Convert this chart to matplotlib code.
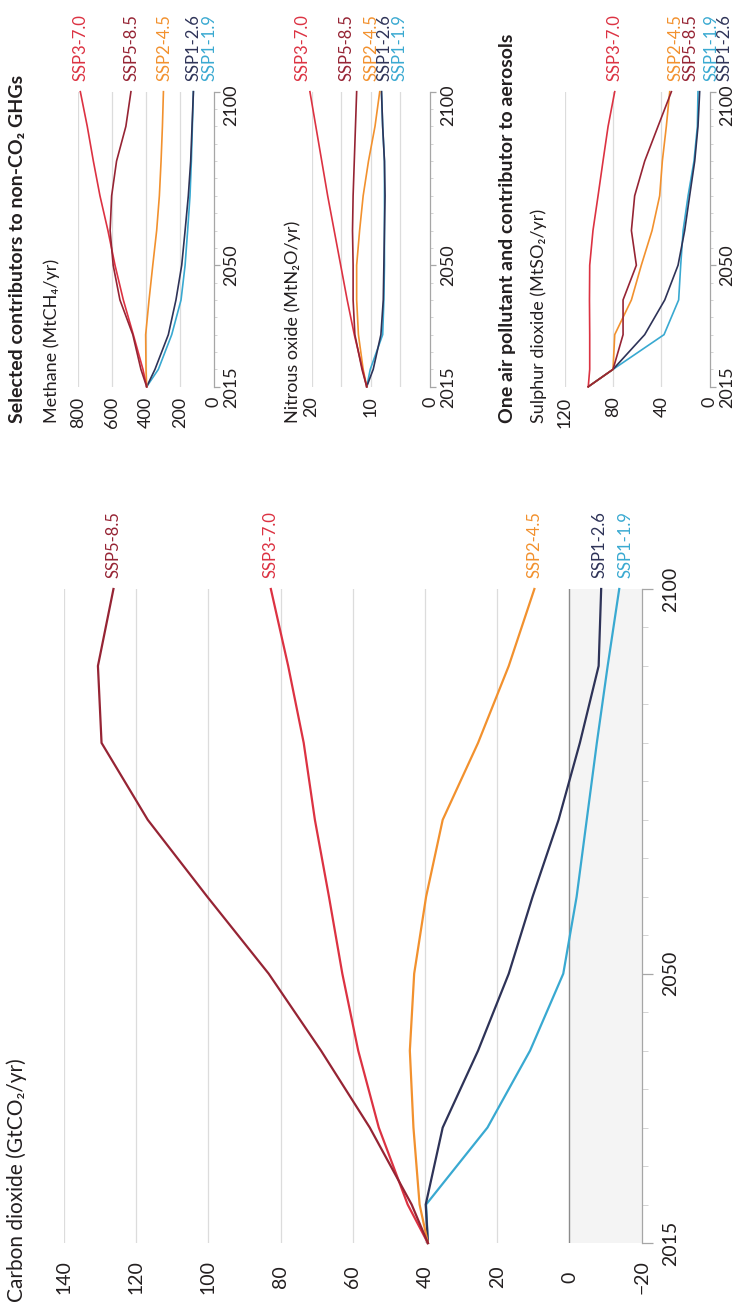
import matplotlib.pyplot as plt
import matplotlib.transforms as mtransforms

plt.rcParams['font.family'] = ['Lato', 'DejaVu Sans']

W, H = 742, 1308

years = [2015, 2020, 2030, 2040, 2050, 2060, 2070, 2080, 2090, 2100]
scenarios = ['SSP1-1.9', 'SSP1-2.6', 'SSP2-4.5', 'SSP3-7.0', 'SSP5-8.5']
colours = {
    'SSP1-1.9': '#39a9d1',
    'SSP1-2.6': '#2e3358',
    'SSP2-4.5': '#f2912e',
    'SSP3-7.0': '#dc3242',
    'SSP5-8.5': '#962434',
}

# GtCO2/yr
co2 = {
    'SSP1-1.9': [39.2, 39.7, 22.7, 10.9, 1.7, -2.0, -4.8, -7.6, -10.6, -13.8],
    'SSP1-2.6': [39.2, 39.8, 35.1, 25.3, 16.8, 10.2, 3.0, -2.9, -8.1, -8.8],
    'SSP2-4.5': [39.2, 41.5, 43.2, 44.2, 43.0, 39.7, 35.1, 25.3, 16.8, 9.7],
    'SSP3-7.0': [39.2, 44.8, 52.8, 58.5, 62.9, 66.6, 70.5, 73.6, 77.9, 82.7],
    'SSP5-8.5': [39.2, 43.7, 55.3, 68.8, 83.3, 100.3, 116.8, 129.6, 130.6, 126.3],
}
# MtCH4/yr
ch4 = {
    'SSP1-1.9': [396, 327, 248, 193, 169, 154, 140, 132, 126, 120],
    'SSP1-2.6': [396, 347, 268, 223, 189, 169, 150, 136, 128, 120],
    'SSP2-4.5': [396, 400, 402, 382, 360, 337, 321, 311, 303, 297],
    'SSP3-7.0': [396, 418, 475, 534, 583, 625, 672, 711, 747, 788],
    'SSP5-8.5': [396, 430, 478, 554, 594, 612, 603, 574, 519, 489],
}
# MtN2O/yr
n2o = {
    'SSP1-1.9': [10.7, 10.1, 8.0, 7.8, 7.7, 7.7, 7.7, 7.7, 8.0, 8.2],
    'SSP1-2.6': [10.7, 9.6, 8.3, 7.9, 7.8, 7.7, 7.6, 7.7, 8.0, 8.2],
    'SSP2-4.5': [10.7, 11.3, 12.1, 12.4, 12.4, 11.9, 11.3, 10.4, 9.3, 8.5],
    'SSP3-7.0': [10.7, 11.4, 12.8, 14.0, 15.1, 16.2, 17.3, 18.3, 19.3, 20.3],
    'SSP5-8.5': [10.7, 11.5, 12.7, 13.0, 13.0, 13.1, 13.0, 12.8, 12.6, 12.4],
}
# MtSO2/yr
so2 = {
    'SSP1-1.9': [100.5, 80, 37.8, 25.7, 24.0, 22.0, 17.9, 13.0, 10.2, 9.7],
    'SSP1-2.6': [100.5, 80, 53.8, 37.2, 26.2, 20.7, 16.6, 12.4, 9.7, 8.3],
    'SSP2-4.5': [100.5, 80, 78.6, 64.8, 56.6, 47.7, 41.4, 39.2, 35.9, 33.1],
    'SSP3-7.0': [100.5, 99.3, 99.3, 99.5, 99.3, 96.6, 92.4, 88.3, 84.1, 78.6],
    'SSP5-8.5': [100.5, 80, 71.7, 71.7, 60.7, 64.8, 62.1, 53.8, 42.8, 31.7],
}

GRID = '#dcdcdc'
AXIS = '#a6a6a6'
TEXT = '#231f20'
minor_years = [y for y in range(2020, 2100, 5) if y != 2050]


def box(left, right, top, bottom):
    return [left / W, 1 - bottom / H, (right - left) / W, (bottom - top) / H]


def panel(rect, data, xlim, grid_vals, tick_vals, nudges, lw=1.2, big=False):
    ax = fig.add_axes(box(*rect))
    ax.patch.set_alpha(0)
    ax.set_xlim(*xlim)
    ax.set_ylim(2015, 2100)
    for s in ['left', 'top', 'bottom']:
        ax.spines[s].set_visible(False)
    ax.spines['right'].set_color(AXIS)
    ax.spines['right'].set_linewidth(0.9)
    for v in grid_vals:
        ax.axvline(v, color=GRID, lw=0.9, zorder=0)

    ax.set_xticks(tick_vals)
    ax.set_xticklabels([f'{v:g}'.replace('-', '\u2212') for v in tick_vals],
                       rotation=90)
    ax.tick_params(axis='x', length=0, pad=24.5 if big else 7,
                   labelsize=14 if big else 13, labelcolor=TEXT)
    if big:
        for lab in ax.get_xticklabels():
            lab.set_va('center')

    # year axis on the right, labels turned with the panel
    tick_len = 8 if big else 4
    tick_pad = 7 if big else 3
    ysize = 14 if big else 13
    ax.yaxis.tick_right()
    ax.set_yticks([2015, 2050, 2100])
    ax.set_yticks(minor_years, minor=True)
    ax.tick_params(axis='y', which='major', direction='out',
                   length=tick_len, width=0.9, color=AXIS,
                   pad=tick_pad, labelsize=ysize, labelcolor=TEXT)
    ax.tick_params(axis='y', which='minor', direction='out',
                   length=4 if big else 2.5, width=0.6, color='#cccccc')
    if big:
        ax.set_yticklabels(['2015', '2050', '2100'])
    else:
        # 2100 sits a little below its tick, clear of the scenario names
        ax.set_yticklabels(['2015', '2050', ''])
        trans = mtransforms.blended_transform_factory(ax.transAxes, ax.transData)
        ax.annotate('2100', (1, 2100), xycoords=trans,
                    xytext=((tick_len + tick_pad) * 100 / 72, -14),
                    textcoords='offset pixels', rotation=90, ha='left',
                    va='center', fontsize=ysize, color=TEXT,
                    annotation_clip=False)
    for lab in ax.get_yticklabels():
        lab.set_rotation(90)
        lab.set_va('center')

    for name in scenarios:
        ax.plot(data[name], years, color=colours[name], lw=lw,
                solid_joinstyle='miter', clip_on=False)
        ax.annotate(name, (data[name][-1], 2100), xytext=(nudges[name], 11),
                    textcoords='offset pixels', rotation=90, ha='center',
                    va='bottom', fontsize=12, color=colours[name],
                    annotation_clip=False)
    return ax


fig = plt.figure(figsize=(W / 100, H / 100), dpi=100)

# methane
panel((78.3, 213.7, 91.7, 386.7), ch4, (800, 0), [800, 600, 400, 200],
      [800, 600, 400, 200, 0],
      {'SSP1-1.9': 16, 'SSP1-2.6': 0, 'SSP2-4.5': 1.5, 'SSP3-7.0': 0, 'SSP5-8.5': 1})

# nitrous oxide
panel((311.7, 430, 91.7, 386.7), n2o, (20, 0), [20, 15, 10, 5],
      [20, 10, 0],
      {'SSP1-1.9': 18.5, 'SSP1-2.6': 3.5, 'SSP2-4.5': -8, 'SSP3-7.0': -7, 'SSP5-8.5': -10})

# sulphur dioxide
panel((564.7, 709.7, 91.7, 386.7), so2, (120, 0), [120, 80, 40],
      [120, 80, 40, 0],
      {'SSP1-1.9': 14, 'SSP1-2.6': 25, 'SSP2-4.5': 6, 'SSP3-7.0': 0, 'SSP5-8.5': 19})

# carbon dioxide
ax = panel((64, 641.6, 589, 1243), co2, (140, -20), [140, 120, 100, 80, 60, 40, 20],
           [140, 120, 100, 80, 60, 40, 20, 0, -20],
           {'SSP1-1.9': 6, 'SSP1-2.6': -2, 'SSP2-4.5': 0, 'SSP3-7.0': 0, 'SSP5-8.5': 0},
           lw=1.6, big=True)
ax.axvspan(0, -20, color='#f4f4f4', zorder=-1, lw=0)
ax.axvline(0, color='#8c8c8c', lw=1.0, zorder=0)


def label(x, y, s, bold=False, size=13):
    fig.text(x / W, 1 - y / H, s, rotation=90, ha='center', va='bottom',
             fontsize=size, color=TEXT, fontweight='bold' if bold else 'normal')


label(18, 423, 'Selected contributors to non-CO\u2082 GHGs', bold=True, size=14)
label(52, 423, 'Methane (MtCH\u2084/yr)')
label(293, 423, 'Nitrous oxide (MtN\u2082O/yr)')
label(507, 423, 'One air pollutant and contributor to aerosols', bold=True, size=14)
label(539, 423, 'Sulphur dioxide (MtSO\u2082/yr)')
label(17, 1302, 'Carbon dioxide (GtCO\u2082/yr)', size=15)

fig.savefig('out.png', dpi=100)
